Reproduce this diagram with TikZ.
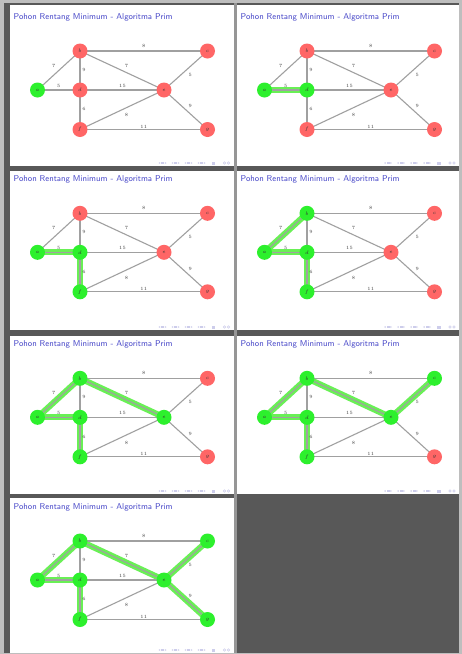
\documentclass[tikz,border=0pt]{standalone}
\usetikzlibrary{calc}
\definecolor{bgdark}{RGB}{88,88,88}
\definecolor{bglight}{RGB}{190,190,190}
\definecolor{coldiv}{RGB}{150,150,150}
\definecolor{titleblue}{RGB}{70,70,200}
\definecolor{edgegray}{RGB}{160,160,160}
\definecolor{hlgreen}{RGB}{105,240,85}
\definecolor{nred}{RGB}{255,102,102}
\definecolor{ngreen}{RGB}{45,240,45}
\definecolor{navcol}{RGB}{205,205,235}
\pgfdeclarelayer{back}
\pgfdeclarelayer{hl}
\pgfdeclarelayer{edges}
\pgfsetlayers{back,hl,edges,main}
\tikzset{
  vert/.style={circle, minimum size=15pt, inner sep=0pt, font=\fontsize{4.5}{5}\selectfont, text=black!80},
  edgeln/.style={draw=edgegray, line width=1.1pt},
  hledge/.style={draw=hlgreen, line width=6pt},
  elabel/.style={font=\fontsize{4.8}{5}\selectfont, text=black!75, inner sep=0pt},
  titlest/.style={font=\sffamily\fontsize{8.5}{10}\selectfont, text=titleblue, inner sep=0pt},
  slidebg/.style={fill=white},
}
% #1 id, #2 stage, #3 x0, #4 y0, #5 x1, #6 y1, #7 content y origin
\newcommand\prslide[7]{%
  \begin{pgfonlayer}{back}
    \fill[slidebg] (#3,#4) rectangle (#5,#6);
  \end{pgfonlayer}
  \begin{scope}[shift={(#3,#7)}, name prefix=#1-]
    \node[titlest, anchor=west] (title) at (4,12.5) {Pohon Rentang Minimum - Algoritma Prim};
    \foreach \n/\x/\y/\s in {a/28/85/1, b/70.5/46/4, c/198/46/6, d/70.5/85/2, e/154.5/85/5, f/70.5/124.5/3, g/198/124.5/7}{
      \ifnum\s>#2\relax \def\col{nred}\else \def\col{ngreen}\fi
      \node[vert, fill=\col] (\n) at (\x,\y) {$\n$};
    }
    \begin{pgfonlayer}{hl}
      \foreach \p/\q/\s in {a/d/2, d/f/3, a/b/4, b/e/5, c/e/6, e/g/7}{
        \ifnum\s>#2\relax \else \draw[hledge] (\p.center) -- (\q.center);\fi
      }
    \end{pgfonlayer}
    \begin{pgfonlayer}{edges}
      \foreach \p/\q/\w/\dx/\dy in {a/b/7/-5/4.5, a/d/5/0/4, b/c/8/0/5, b/d/9/4/0.5, b/e/7/4.5/4.5, d/e/15/0.5/4, c/e/5/4.5/-4.5, e/g/9/4.5/3.5, d/f/6/4/0.5, e/f/8/4.5/-5.5, f/g/11/0/3}{
        \draw[edgeln] (\p.center) -- (\q.center) node[elabel, midway, xshift=\dx pt, yshift=\dy pt] {\w};
      }
    \end{pgfonlayer}
  \end{scope}
  \begin{scope}[shift={(#5,#6)}]
    \foreach \gx in {-75,-62,-49,-36}{
      \fill[navcol] (\gx,-3) -- ++(1.6,-1) -- ++(0,2) -- cycle;
      \fill[navcol] (\gx+2.6,-4.2) rectangle ++(3,2.4);
      \fill[navcol] (\gx+8,-3) -- ++(-1.6,-1) -- ++(0,2) -- cycle;
    }
    \fill[navcol] (-22,-4.4) rectangle ++(3.5,0.6);
    \fill[navcol] (-22,-3.3) rectangle ++(3.5,0.6);
    \fill[navcol] (-22,-2.2) rectangle ++(3.5,0.6);
    \draw[navcol, line width=0.6pt] (-9,-3) circle (1.3);
    \draw[navcol, line width=0.6pt] (-5,-3) circle (1.3);
  \end{scope}
}
\begin{document}
\begin{tikzpicture}[x=1pt, y=-1pt]
  \useasboundingbox (0,0) rectangle (462,654);
  \begin{pgfonlayer}{back}
    \fill[bglight] (0,0) rectangle (462,654);
    \fill[bgdark] (4,3) rectangle (459,653);
    \fill[coldiv] (233.5,3) rectangle (236.5,653);
  \end{pgfonlayer}
  \prslide{s1}{1}{9.5}{5}{233.5}{166}{5}
  \prslide{s2}{2}{236.5}{5}{459}{166}{5}
  \prslide{s3}{3}{9.5}{171}{233.5}{330}{167.3}
  \prslide{s4}{4}{236.5}{171}{459}{330}{167.3}
  \prslide{s5}{5}{9.5}{336}{233.5}{494}{332.3}
  \prslide{s6}{6}{236.5}{336}{459}{494}{332.3}
  \prslide{s7}{7}{9.5}{498}{233.5}{653}{495}
\end{tikzpicture}
\end{document}
